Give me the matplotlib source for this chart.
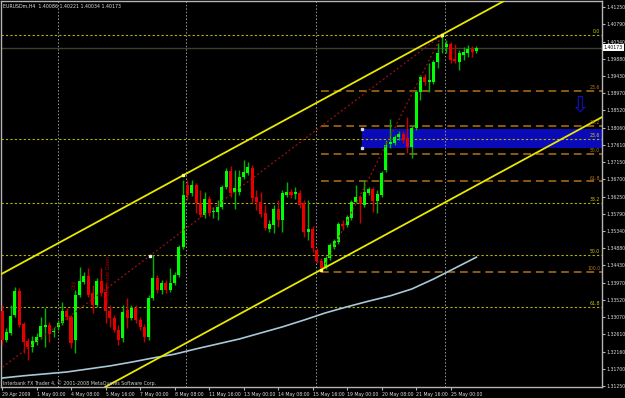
import numpy as np
import matplotlib
matplotlib.use("Agg")
import matplotlib.pyplot as plt
import matplotlib.transforms as mtransforms
from matplotlib.patches import Rectangle

# EURUSDm H4 candles, bar 0 = 29 Apr 2009
opens = [1.3323, 1.3246, 1.3265, 1.3312, 1.3376, 1.3289, 1.3244, 1.3228, 1.3241, 1.3254,
         1.3281, 1.3286, 1.3268, 1.3281, 1.3291, 1.3323, 1.3307, 1.3246, 1.3365, 1.3399,
         1.3415, 1.3370, 1.3339, 1.3402, 1.3373, 1.3323, 1.3305, 1.3273, 1.3252, 1.3326,
         1.3305, 1.3331, 1.3299, 1.3281, 1.3254, 1.3357, 1.3410, 1.3378, 1.3397, 1.3378,
         1.3397, 1.3418, 1.3492, 1.3655, 1.3634, 1.3655, 1.3608, 1.3576, 1.3618, 1.3584,
         1.3584, 1.3597, 1.3650, 1.3692, 1.3637, 1.3637, 1.3677, 1.3687, 1.3700, 1.3624,
         1.3611, 1.3582, 1.3539, 1.3550, 1.3592, 1.3563, 1.3629, 1.3637, 1.3632, 1.3634,
         1.3608, 1.3531, 1.3539, 1.3484, 1.3455, 1.3439, 1.3463, 1.3492, 1.3505, 1.3552,
         1.3550, 1.3568, 1.3611, 1.3624, 1.3603, 1.3634, 1.3645, 1.3613, 1.3629, 1.3695,
         1.3764, 1.3766, 1.3782, 1.3790, 1.3779, 1.3756, 1.3806, 1.3901, 1.3940, 1.3927,
         1.3927, 1.3980, 1.4042, 1.4020, 1.4027, 1.3988, 1.3980, 1.3998, 1.4004, 1.4014,
         1.40086]
highs = [1.3339, 1.3278, 1.3339, 1.3386, 1.3384, 1.3294, 1.3252, 1.3257, 1.3265, 1.3307,
         1.3331, 1.3294, 1.3281, 1.3299, 1.3347, 1.3331, 1.3312, 1.3378, 1.3439, 1.3426,
         1.3436, 1.3392, 1.3410, 1.3436, 1.3397, 1.3339, 1.3312, 1.3286, 1.3339, 1.3357,
         1.3339, 1.3339, 1.3307, 1.3289, 1.3365, 1.3471, 1.3418, 1.3405, 1.3405, 1.3436,
         1.3426, 1.3497, 1.3669, 1.3669, 1.3669, 1.3661, 1.3642, 1.3637, 1.3626, 1.3597,
         1.3616, 1.3655, 1.3700, 1.3706, 1.3695, 1.3695, 1.3721, 1.3716, 1.3708, 1.3642,
         1.3637, 1.3603, 1.3563, 1.3603, 1.3616, 1.3642, 1.3663, 1.3645, 1.3650, 1.3642,
         1.3616, 1.3616, 1.3547, 1.3489, 1.3463, 1.3468, 1.3502, 1.3513, 1.3558, 1.3563,
         1.3576, 1.3616, 1.3655, 1.3629, 1.3669, 1.3650, 1.3650, 1.3642, 1.3692, 1.3774,
         1.3830, 1.3787, 1.3798, 1.3798, 1.3835, 1.3811, 1.3906, 1.3946, 1.3948, 1.3977,
         1.3985, 1.4030, 1.4051, 1.4038, 1.4033, 1.4027, 1.4012, 1.4020, 1.4025, 1.4022,
         1.40221]
lows = [1.3233, 1.3241, 1.3260, 1.3307, 1.3281, 1.3212, 1.3194, 1.3215, 1.3233, 1.3249,
        1.3228, 1.3241, 1.3254, 1.3273, 1.3286, 1.3299, 1.3225, 1.3212, 1.3360, 1.3394,
        1.3360, 1.3318, 1.3334, 1.3363, 1.3291, 1.3281, 1.3268, 1.3233, 1.3241, 1.3278,
        1.3299, 1.3291, 1.3273, 1.3241, 1.3246, 1.3352, 1.3370, 1.3368, 1.3370, 1.3373,
        1.3392, 1.3413, 1.3487, 1.3616, 1.3626, 1.3582, 1.3571, 1.3568, 1.3574, 1.3568,
        1.3563, 1.3592, 1.3645, 1.3624, 1.3592, 1.3629, 1.3671, 1.3682, 1.3608, 1.3589,
        1.3571, 1.3537, 1.3531, 1.3529, 1.3545, 1.3531, 1.3624, 1.3621, 1.3618, 1.3595,
        1.3518, 1.3510, 1.3479, 1.3450, 1.3426, 1.3434, 1.3458, 1.3487, 1.3500, 1.3537,
        1.3545, 1.3563, 1.3608, 1.3555, 1.3597, 1.3629, 1.3584, 1.3582, 1.3624, 1.3690,
        1.3753, 1.3761, 1.3774, 1.3766, 1.3740, 1.3727, 1.3801, 1.3880, 1.3919, 1.3901,
        1.3922, 1.3964, 1.4004, 1.4004, 1.3977, 1.3977, 1.3959, 1.3985, 1.3993, 1.3993,
        1.40034]
closes = [1.3246, 1.3268, 1.3310, 1.3376, 1.3286, 1.3241, 1.3228, 1.3244, 1.3254, 1.3283,
          1.3286, 1.3262, 1.3270, 1.3291, 1.3323, 1.3307, 1.3239, 1.3365, 1.3402, 1.3415,
          1.3365, 1.3339, 1.3402, 1.3370, 1.3323, 1.3305, 1.3273, 1.3246, 1.3320, 1.3305,
          1.3331, 1.3299, 1.3281, 1.3254, 1.3357, 1.3410, 1.3378, 1.3397, 1.3378, 1.3397,
          1.3418, 1.3492, 1.3629, 1.3629, 1.3655, 1.3608, 1.3576, 1.3618, 1.3582, 1.3587,
          1.3597, 1.3650, 1.3692, 1.3634, 1.3647, 1.3677, 1.3690, 1.3703, 1.3621, 1.3611,
          1.3579, 1.3542, 1.3552, 1.3592, 1.3563, 1.3634, 1.3637, 1.3629, 1.3637, 1.3603,
          1.3531, 1.3539, 1.3489, 1.3455, 1.3436, 1.3463, 1.3497, 1.3508, 1.3552, 1.3547,
          1.3571, 1.3611, 1.3624, 1.3605, 1.3637, 1.3645, 1.3613, 1.3632, 1.3687, 1.3761,
          1.3769, 1.3782, 1.3790, 1.3774, 1.3756, 1.3806, 1.3901, 1.3940, 1.3927, 1.3932,
          1.3980, 1.4004, 1.4046, 1.4027, 1.3985, 1.3983, 1.4004, 1.4006, 1.4014, 1.4006,
          1.40173]

# slow moving average, read every 5 bars
ma_bars = [0, 5, 10, 15, 20, 25, 30, 35, 40, 45, 50, 55, 60, 65, 70, 75, 80, 85, 90, 95, 100, 105, 110]
ma_values = [1.3146, 1.3152, 1.3157, 1.3162, 1.3170, 1.3178, 1.3188, 1.3199, 1.3209, 1.3223,
             1.3236, 1.3249, 1.3265, 1.3281, 1.3299, 1.3318, 1.3334, 1.3349, 1.3363, 1.3381,
             1.3407, 1.3436, 1.3465]

date_ticks = [0, 8, 16, 24, 32, 40, 48, 56, 64, 72, 80, 88, 96, 104]
date_labels = ["29 Apr 2009", "1 May 00:00", "4 May 08:00", "5 May 16:00", "7 May 00:00",
               "8 May 08:00", "11 May 16:00", "13 May 00:00", "14 May 08:00", "15 May 16:00",
               "19 May 00:00", "20 May 08:00", "21 May 16:00", "25 May 00:00"]
price_labels = ["1.31250", "1.31700", "1.32160", "1.32610", "1.33070", "1.33520", "1.33970",
                "1.34430", "1.34880", "1.35340", "1.35790", "1.36250", "1.36700", "1.37150",
                "1.37610", "1.38060", "1.38520", "1.38970", "1.39430", "1.39880", "1.40340",
                "1.40790", "1.41250"]
week_separators = [13.0, 42.7, 72.8, 102.6]

# drawn objects (bar index, price)
channel_a = (42, 1.3681)
channel_b = (102, 1.4052)
channel_c = (74, 1.3432)
fib_high = (102, 1.4051)
fib_low_orange = (74, 1.3426)
fib_low_yellow = (-33, 1.2890)
fib_ratios = [0.0, 23.6, 38.2, 50.0, 61.8, 100.0]
zone_left, zone_top, zone_bottom = 83.5, 1.3803, 1.3753
patterns = [(16.7, 1.3392, "Doji"), (24.6, 1.3411, "Three Inside Down")]

W, H = 625, 398
fig = plt.figure(figsize=(W / 100, H / 100), dpi=100, facecolor="black")
ax = fig.add_axes([1 / W, 11 / H, 601 / W, 386 / H])
ax.set_facecolor("black")
ax.set_xlim(-0.23, 139.1)
ax.set_ylim(1.31224, 1.41409)

o = np.array(opens); h = np.array(highs); l = np.array(lows); c = np.array(closes)
x = np.arange(len(o))
up = c >= o

# blue zone (background object)
ax.add_patch(Rectangle((zone_left, zone_bottom), 80, zone_top - zone_bottom,
                       facecolor="#0a0ab8", edgecolor="none", zorder=1))
ax.plot([zone_left, zone_left], [zone_top, zone_bottom], ls="none", marker="s",
        ms=1.8, color="#c8d8ff", zorder=7)

# period separators
for s in week_separators:
    ax.axvline(s, color="#9a9a9a", lw=0.7, ls=(0, (1.5, 2)), zorder=2)

# fibonacci levels
span_y = fib_high[1] - fib_low_yellow[1]
span_o = fib_high[1] - fib_low_orange[1]
lab_tr = mtransforms.blended_transform_factory(ax.transAxes, ax.transData)
for r in fib_ratios:
    lev = fib_high[1] - r / 100 * span_y
    ax.axhline(lev, color="#b4b400", lw=0.8, ls=(0, (2, 2)), zorder=2)
    if r < 100:
        ax.text(0.997, lev + 0.0002, f"{r:.1f}", transform=lab_tr, ha="right", va="bottom",
                fontsize=3.3, color="#c8c800", zorder=8)
for r in fib_ratios[1:]:
    lev = fib_high[1] - r / 100 * span_o
    ax.hlines(lev, fib_low_orange[0], 140, color="#8c5a14", lw=1.4, linestyles=(0, (4, 2.5)), zorder=2)
    ax.text(0.997, lev + 0.0002, f"{r:.1f}", transform=lab_tr, ha="right", va="bottom",
            fontsize=3.3, color="#b07818", zorder=8)

# bid line
ax.axhline(c[-1], color="#3e3e2c", lw=1, zorder=2)

# moving average
ax.plot(ma_bars, ma_values, color="#a8c8d8", lw=1.2, zorder=3)

# candles
wick_col = np.where(up, "#00b400", "#c80000")
body_col = np.where(up, "#00ff00", "#e80000")
ax.vlines(x, l, h, colors=wick_col, lw=1, zorder=4)
ax.bar(x, np.maximum(np.abs(c - o), 0.00006), bottom=np.minimum(o, c), width=0.7,
       color=body_col, linewidth=0, zorder=5)

# fibonacci trend lines
ax.plot([fib_low_yellow[0], fib_high[0]], [fib_low_yellow[1], fib_high[1]],
        color="#a01010", lw=0.9, ls=(0, (1.5, 2)), zorder=6)
ax.plot([fib_low_orange[0], fib_high[0]], [fib_low_orange[1], fib_high[1]],
        color="#a01010", lw=0.9, ls=(0, (1.5, 2)), zorder=6)
ax.plot([34.3], [1.3469], ls="none", marker="s", ms=1.6, color="#f0f0f0", zorder=7)

# channel
slope = (channel_b[1] - channel_a[1]) / (channel_b[0] - channel_a[0])
ax.axline(channel_a, channel_b, color="#e8e800", lw=1.3, zorder=6)
ax.axline(channel_c, slope=slope, color="#e8e800", lw=1.3, zorder=6)
ax.plot([channel_a[0], channel_b[0], channel_c[0]], [channel_a[1], channel_b[1], channel_c[1]],
        ls="none", marker="s", ms=1.8, color="#ffff60", zorder=7)

# pattern labels
for px, py, txt in patterns:
    ax.text(px, py, txt, rotation=90, ha="center", va="center", fontsize=3.4,
            color="#a00000", zorder=7)

# blue arrow
ax.text(0.963, 1.3865, "\u21e9", transform=lab_tr, ha="center", va="center",
        fontsize=16, color="#1010c8", zorder=8)

# axes styling
for sp in ax.spines.values():
    sp.set_color("#b4b4b4")
    sp.set_linewidth(1)
ax.yaxis.tick_right()
ax.set_yticks([float(s) for s in price_labels])
ax.set_yticklabels(price_labels)
ax.set_xticks(date_ticks)
ax.set_xticklabels(date_labels, ha="left")
ax.tick_params(axis="both", colors="#b4b4b4", labelcolor="#dcdcdc", labelsize=3.3,
               length=2, width=0.8, direction="out", pad=1.5)

# current price label
ax.text(1.003, c[-1], f"{c[-1]:.5f}", transform=lab_tr, ha="left", va="center",
        fontsize=3.3, color="black", zorder=9, clip_on=False,
        bbox=dict(boxstyle="square,pad=0.25", facecolor="white", edgecolor="none"))

fig.text(3 / W, 1 - 6 / H, "EURUSDm,H4  1.40086 1.40221 1.40034 1.40173",
         fontsize=3.4, color="#e0e0e0", va="center", ha="left")
fig.text(3 / W, 1 - 383 / H, "Interbank FX Trader 4, \u00a9 2001-2008 MetaQuotes Software Corp.",
         fontsize=3.4, color="#d0d0d0", va="center", ha="left")

fig.savefig("out.png", dpi=100, facecolor="black")
